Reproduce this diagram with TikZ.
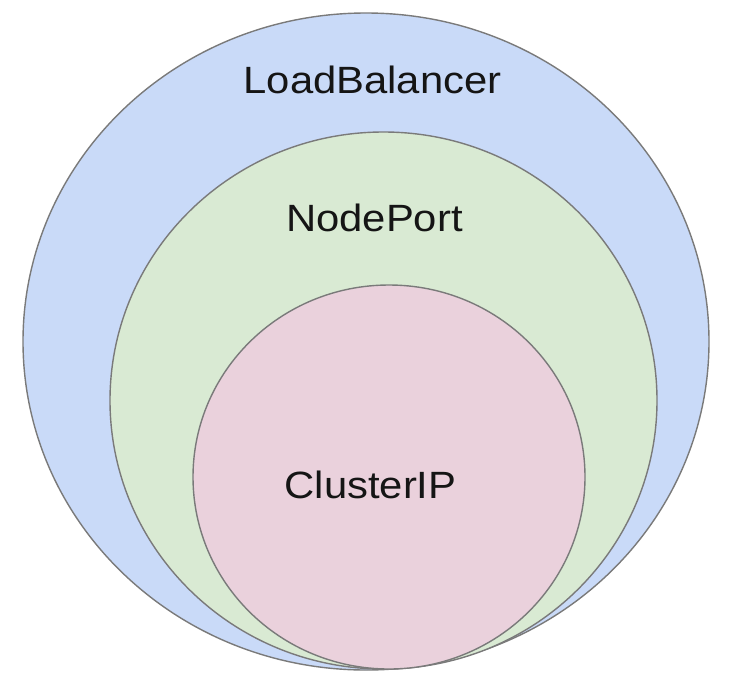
\documentclass[tikz,border=0pt]{standalone}
\usepackage{fontspec}
\setmainfont{Liberation Sans}
\definecolor{lbfill}{HTML}{C9DAF8}
\definecolor{npfill}{HTML}{D9EAD3}
\definecolor{cifill}{HTML}{EAD1DC}
\definecolor{rim}{HTML}{7A7A7A}
\definecolor{ink}{HTML}{151515}
\tikzset{
  ring/.style={draw=rim, line width=1.4pt},
  tier/.style={inner sep=0pt, text=ink, font=\fontsize{38}{38}\selectfont}
}
\begin{document}
\begin{tikzpicture}[x=1pt, y=-1pt]
  \useasboundingbox (0,0) rectangle (736,686);
  % nested service types, all touching at the bottom
  \path[ring, fill=lbfill] (366,341.5) ellipse [x radius=343, y radius=328.5];
  \path[ring, fill=npfill] (383.5,400.5) ellipse [x radius=273.5, y radius=268.5];
  \path[ring, fill=cifill] (389,477) ellipse [x radius=196, y radius=192];
  % labels
  \node[tier] (lb) at (372.5,80) {\scalebox{1.1}[1]{LoadBalancer}};
  \node[tier] (np) at (374.5,218) {\scalebox{1.1}[1]{NodePort}};
  \node[tier] (ci) at (370.5,485) {\scalebox{1.1}[1]{ClusterIP}};
\end{tikzpicture}
\end{document}
